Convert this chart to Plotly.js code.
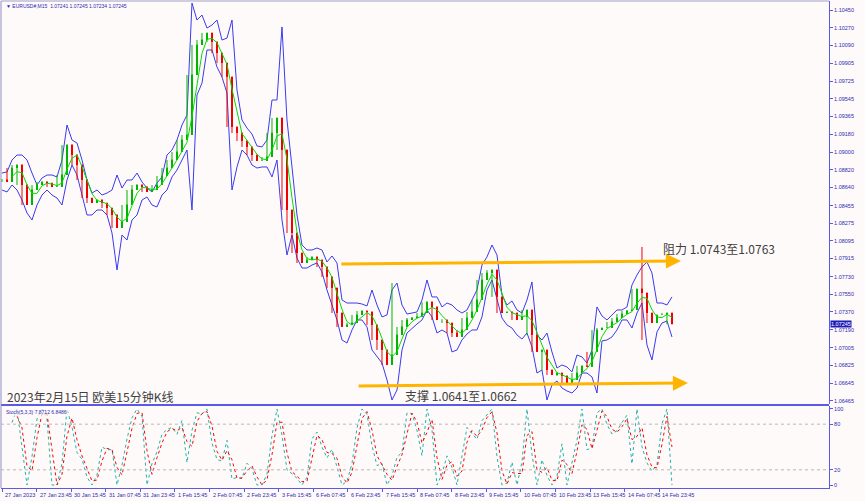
<!DOCTYPE html>
<html>
<head>
<meta charset="utf-8">
<script src="https://cdn.plot.ly/plotly-3.0.1.min.js"></script>
<style>html,body{margin:0;padding:0;background:#fffafa;}#chart{width:865px;height:501px;}</style>
</head>
<body>
<div id="chart"></div>
<script>
// ---- data (EURUSD M15, sampled along the chart) ----
const closePrices = [
 1.08716,1.08696,1.08838,1.08869,1.08665,1.08461,1.08614,1.08665,1.08696,1.08685,
 1.08645,1.08645,1.08767,1.09073,1.08971,1.08869,1.08716,1.08532,1.08481,1.08512,
 1.08481,1.08430,1.08359,1.08226,1.08288,1.08461,1.08614,1.08665,1.08645,1.08594,
 1.08614,1.08665,1.08757,1.08838,1.08920,1.09002,1.09124,1.09175,1.09787,1.10093,
 1.10144,1.10215,1.10124,1.10011,1.09909,1.09767,1.09257,1.09195,1.09114,1.09053,
 1.08971,1.08910,1.08910,1.08951,1.09195,1.09348,1.09022,1.08410,1.08175,1.07971,
 1.07869,1.07900,1.07931,1.07900,1.07829,1.07727,1.07614,1.07359,1.07217,1.07237,
 1.07257,1.07339,1.07380,1.07370,1.07237,1.07084,1.06982,1.06829,1.06931,1.07135,
 1.07217,1.07288,1.07308,1.07319,1.07359,1.07472,1.07421,1.07288,1.07288,1.07257,
 1.07155,1.07115,1.07186,1.07308,1.07370,1.07492,1.07696,1.07767,1.07798,1.07523,
 1.07359,1.07370,1.07359,1.07288,1.07319,1.07390,1.07135,1.06962,1.06982,1.06778,
 1.06727,1.06747,1.06717,1.06645,1.06676,1.06747,1.06819,1.06809,1.06962,1.07186,
 1.07206,1.07206,1.07268,1.07308,1.07349,1.07380,1.07390,1.07604,1.07563,1.07359,
 1.07257,1.07339,1.07339,1.07359,1.07245];

const upperBand = [
 1.08787,1.08798,1.08920,1.08971,1.08971,1.08920,1.08787,1.08665,1.08736,1.08767,
 1.08767,1.08747,1.08920,1.09277,1.09124,1.09093,1.08920,1.08716,1.08583,1.08614,
 1.08563,1.08583,1.08614,1.08767,1.08634,1.08716,1.08716,1.08787,1.08696,1.08634,
 1.08594,1.08685,1.08747,1.08971,1.09022,1.09124,1.09277,1.09379,1.10521,1.10348,
 1.10399,1.10266,1.10297,1.10348,1.10144,1.10164,1.10348,1.09634,1.09328,1.09246,
 1.09185,1.09063,1.09053,1.09124,1.09532,1.09532,1.10277,1.09328,1.08849,1.08359,
 1.08053,1.08002,1.08002,1.08022,1.08002,1.07880,1.07941,1.07869,1.07492,1.07461,
 1.07461,1.07461,1.07451,1.07431,1.07594,1.07441,1.07319,1.07339,1.07594,1.07665,
 1.07441,1.07349,1.07359,1.07370,1.07492,1.07696,1.07523,1.07523,1.07421,1.07461,
 1.07441,1.07390,1.07359,1.07390,1.07492,1.07594,1.07849,1.07931,1.08053,1.07951,
 1.07543,1.07441,1.07482,1.07390,1.07359,1.07492,1.07676,1.07135,1.07084,1.07155,
 1.06962,1.06798,1.06829,1.06809,1.06758,1.06931,1.06911,1.06849,1.06982,1.07421,
 1.07329,1.07288,1.07339,1.07390,1.07390,1.07421,1.07645,1.07747,1.07829,1.07880,
 1.07767,1.07461,1.07461,1.07441,1.07523];

const lowerBand = [
 1.08614,1.08594,1.08665,1.08614,1.08512,1.08379,1.08308,1.08461,1.08563,1.08614,
 1.08563,1.08532,1.08461,1.08716,1.08869,1.08767,1.08563,1.08359,1.08359,1.08410,
 1.08410,1.08359,1.08175,1.07798,1.08155,1.08104,1.08308,1.08359,1.08512,1.08543,
 1.08461,1.08441,1.08563,1.08614,1.08747,1.08818,1.08920,1.09022,1.08410,1.09583,
 1.09705,1.10042,1.10042,1.09869,1.09767,1.09603,1.08614,1.08849,1.09022,1.08971,
 1.08869,1.08838,1.08849,1.08849,1.08747,1.08920,1.08308,1.07951,1.08155,1.07920,
 1.07818,1.07818,1.07849,1.07869,1.07778,1.07594,1.07441,1.07288,1.07084,1.07053,
 1.07186,1.07288,1.07288,1.07217,1.06982,1.06911,1.06849,1.06676,1.06472,1.06574,
 1.06982,1.07155,1.07206,1.07247,1.07288,1.07390,1.07319,1.07155,1.07186,1.07155,
 1.06962,1.06982,1.07084,1.07145,1.07186,1.07186,1.07319,1.07594,1.07696,1.07492,
 1.07308,1.07237,1.07206,1.07135,1.07094,1.07155,1.07013,1.06747,1.06778,1.06472,
 1.06625,1.06666,1.06594,1.06564,1.06543,1.06594,1.06747,1.06747,1.06707,1.06543,
 1.07074,1.07084,1.07115,1.07186,1.07288,1.07288,1.07206,1.07359,1.07461,1.07033,
 1.06880,1.07166,1.07257,1.07278,1.07115];

// long wicks (sample index, high, low)
const wickIndex = [78, 128];
const wickHigh = [1.07665, 1.08033];
const wickLow = [1.06880, 1.07084];

const timeLabels = ["27 Jan 2023","27 Jan 23:45","30 Jan 15:45","31 Jan 07:45","31 Jan 23:45",
 "1 Feb 15:45","2 Feb 07:45","2 Feb 23:45","3 Feb 15:45","6 Feb 07:45","6 Feb 23:45",
 "7 Feb 15:45","8 Feb 07:45","8 Feb 23:45","9 Feb 15:45","10 Feb 07:45","10 Feb 23:45",
 "13 Feb 15:45","14 Feb 07:45","14 Feb 23:45"];
const priceLabels = ["1.10450","1.10270","1.10090","1.09905","1.09725","1.09545","1.09365",
 "1.09180","1.09000","1.08820","1.08640","1.08455","1.08275","1.08095","1.07915","1.07730",
 "1.07550","1.07370","1.07190","1.07005","1.06825","1.06645","1.06465"];
const stochLabels = ["100","80","20","0"];
const stochLevels = [80, 20];

const resistBars = [625, 1256], resistPrices = [1.07859, 1.07890];
const supportBars = [657, 1269], supportPrices = [1.06615, 1.06645];
const lastPrice = "1.07245";

// ---- derived ----
const BARS_PER_SAMPLE = 9.25, BARS_PER_LABEL = 64;
const N = closePrices.length;
const xs = closePrices.map((_, i) => i * BARS_PER_SAMPLE);
const openPrices = closePrices.map((c, i) => i === 0 ? c : closePrices[i - 1]);
const nextPrices = closePrices.map((c, i) => i === N - 1 ? c : closePrices[i + 1]);
const highPrices = closePrices.map((c, i) => Math.max(c, openPrices[i], nextPrices[i]));
const lowPrices = closePrices.map((c, i) => Math.min(c, openPrices[i], nextPrices[i]));
wickIndex.forEach((k, j) => { highPrices[k] = wickHigh[j]; lowPrices[k] = wickLow[j]; });

function sma(a, n) {
  return a.map((_, i) => {
    if (i < n - 1) return null;
    let s = 0; for (let j = i - n + 1; j <= i; j++) { if (a[j] == null) return null; s += a[j]; }
    return s / n;
  });
}
const ma = sma(closePrices, 3);

function stoch(h, l, c, kp, slow, dp) {
  const num = [], den = [];
  for (let i = 0; i < c.length; i++) {
    if (i < kp - 1) { num.push(null); den.push(null); continue; }
    let hh = -Infinity, ll = Infinity;
    for (let j = i - kp + 1; j <= i; j++) { hh = Math.max(hh, h[j]); ll = Math.min(ll, l[j]); }
    num.push(c[i] - ll); den.push(hh - ll);
  }
  const K = c.map((_, i) => {
    if (i < kp - 1 + slow - 1) return null;
    let n = 0, d = 0; for (let j = i - slow + 1; j <= i; j++) { n += num[j]; d += den[j]; }
    return d === 0 ? 50 : n / d * 100;
  });
  return { K, D: sma(K, dp) };
}
const st = stoch(highPrices, lowPrices, closePrices, 3, 1, 2);

// candle strokes (vertical segments), split by direction
function segs(pick, lo, hi) {
  const x = [], y = [];
  for (let i = 0; i < N; i++) {
    if (!pick(i)) continue;
    x.push(xs[i], xs[i], null); y.push(lo[i], hi[i], null);
  }
  return { x, y };
}
const isUp = i => closePrices[i] >= openPrices[i];
const bodyLo = closePrices.map((c, i) => Math.min(c, openPrices[i]));
const bodyHi = closePrices.map((c, i) => Math.max(c, openPrices[i]) + 0.00004);
const upW = segs(isUp, lowPrices, highPrices), dnW = segs(i => !isUp(i), lowPrices, highPrices);
const upB = segs(isUp, bodyLo, bodyHi), dnB = segs(i => !isUp(i), bodyLo, bodyHi);

// ---- traces ----
const blue = '#3a3af0', upCol = '#00b400', dnCol = '#f00000';
const traces = [
  { type: 'scatter', mode: 'lines', x: xs, y: upperBand, line: { color: blue, width: 1 }, hoverinfo: 'skip' },
  { type: 'scatter', mode: 'lines', x: xs, y: lowerBand, line: { color: blue, width: 1 }, hoverinfo: 'skip' },
  { type: 'scatter', mode: 'lines', x: upW.x, y: upW.y, line: { color: upCol, width: 1 }, connectgaps: false, hoverinfo: 'skip' },
  { type: 'scatter', mode: 'lines', x: dnW.x, y: dnW.y, line: { color: dnCol, width: 1 }, connectgaps: false, hoverinfo: 'skip' },
  { type: 'scatter', mode: 'lines', x: upB.x, y: upB.y, line: { color: upCol, width: 2 }, connectgaps: false, hoverinfo: 'skip' },
  { type: 'scatter', mode: 'lines', x: dnB.x, y: dnB.y, line: { color: dnCol, width: 2 }, connectgaps: false, hoverinfo: 'skip' },
  { type: 'scatter', mode: 'lines', x: xs, y: ma, line: { color: '#00dd00', width: 1 }, hoverinfo: 'skip' },
  { type: 'scatter', mode: 'lines', x: xs, y: st.K, yaxis: 'y2', line: { color: '#20b2aa', width: 1, dash: 'dot' }, hoverinfo: 'skip' },
  { type: 'scatter', mode: 'lines', x: xs, y: st.D, yaxis: 'y2', line: { color: '#ff0000', width: 1, dash: 'dot' }, hoverinfo: 'skip' }
];

// ---- layout ----
const axisBlue = '#5a5ae6', tickFont = { family: 'Liberation Sans, DejaVu Sans', size: 5.5, color: '#2b2bb0' };
const smallFont = { family: 'Liberation Sans, DejaVu Sans', size: 5, color: '#2b2bb0' };
const MAIN_BOTTOM = 0.1725, STOCH_TOP = 0.1684;
const annotations = [];
timeLabels.forEach((t, k) => annotations.push({ xref: 'x', yref: 'paper', x: k * BARS_PER_LABEL, y: 0, xanchor: 'left', yanchor: 'top',
  yshift: -2, xshift: 1, text: t, showarrow: false, font: tickFont }));
annotations.push({ xref: 'paper', yref: 'paper', x: 0.004, y: 0.999, xanchor: 'left', yanchor: 'top', showarrow: false,
  text: '▼ EURUSD#,M15  1.07241 1.07245 1.07234 1.07245', font: smallFont });
annotations.push({ xref: 'paper', yref: 'paper', x: 0.004, y: STOCH_TOP - 0.002, xanchor: 'left', yanchor: 'top', showarrow: false,
  text: 'Stoch(5,3,3) 7.8712 6.8486', font: smallFont, bgcolor: 'rgba(255,250,250,0.7)' });
annotations.push({ xref: 'paper', yref: 'y', x: 1, y: Number(lastPrice), xanchor: 'left', yanchor: 'middle', xshift: 1, showarrow: false,
  text: lastPrice, bgcolor: '#1c1cb8', borderpad: 0, font: { family: 'Liberation Sans, DejaVu Sans', size: 5.5, color: '#ffffff' } });
annotations.push({ xref: 'x', yref: 'y', x: resistBars[1], y: resistPrices[1], axref: 'x', ayref: 'y', ax: resistBars[0], ay: resistPrices[0],
  text: '', showarrow: true, arrowhead: 2, arrowsize: 1, arrowwidth: 3, arrowcolor: '#ffb400', standoff: 0 });
annotations.push({ xref: 'x', yref: 'y', x: supportBars[1], y: supportPrices[1], axref: 'x', ayref: 'y', ax: supportBars[0], ay: supportPrices[0],
  text: '', showarrow: true, arrowhead: 2, arrowsize: 1, arrowwidth: 3, arrowcolor: '#ffb400', standoff: 0 });
const cjk = { family: 'Noto Sans CJK SC', size: 12, color: '#404040' };
annotations.push({ xref: 'x', yref: 'y', x: 1219, y: 1.08022, xanchor: 'left', yanchor: 'middle', showarrow: false, text: '阻力 1.0743至1.0763', font: cjk });
annotations.push({ xref: 'x', yref: 'y', x: 742, y: 1.06516, xanchor: 'left', yanchor: 'middle', showarrow: false, text: '支撑 1.0641至1.0662', font: cjk });
annotations.push({ xref: 'x', yref: 'y', x: 5.5, y: 1.06503, xanchor: 'left', yanchor: 'middle', showarrow: false, text: '2023年2月15日 欧美15分钟K线', font: cjk });

const shapes = [
  { type: 'line', xref: 'paper', yref: 'paper', x0: 0, x1: 1, y0: (MAIN_BOTTOM + STOCH_TOP) / 2, y1: (MAIN_BOTTOM + STOCH_TOP) / 2, line: { color: axisBlue, width: 2 } },
  { type: 'line', xref: 'paper', yref: 'paper', x0: 0, x1: 0, y0: 0, y1: 1, line: { color: '#8c8cc8', width: 1 } },
  { type: 'line', xref: 'paper', yref: 'paper', x0: 0, x1: 1, y0: 1, y1: 1, line: { color: '#a0a0c8', width: 1 } }
];
stochLevels.forEach(v => shapes.push({ type: 'line', xref: 'paper', yref: 'y2', x0: 0, x1: 1, y0: v, y1: v, line: { color: '#b8b8b8', width: 1, dash: 'dot' } }));

const layout = {
  width: 865, height: 501, margin: { l: 1, r: 36, t: 1, b: 13 },
  paper_bgcolor: '#fffafa', plot_bgcolor: '#fffafa', showlegend: false,
  xaxis: { range: [-1.85, 1530], anchor: 'y2', tickvals: timeLabels.map((_, k) => k * BARS_PER_LABEL), showticklabels: false,
    ticks: 'outside', ticklen: 3, tickcolor: axisBlue, showline: true, linecolor: axisBlue, linewidth: 1,
    showgrid: false, zeroline: false, fixedrange: true },
  yaxis: { domain: [MAIN_BOTTOM, 1], range: [1.06431, 1.10542], side: 'right', anchor: 'x',
    tickvals: priceLabels.map(Number), ticktext: priceLabels, ticks: 'outside', ticklen: 3, tickcolor: axisBlue,
    showline: true, linecolor: axisBlue, linewidth: 1, showgrid: false, zeroline: false, tickfont: tickFont, fixedrange: true },
  yaxis2: { domain: [0, STOCH_TOP], range: [-3.9, 103.9], side: 'right', anchor: 'x',
    tickvals: stochLabels.map(Number), ticktext: stochLabels, ticks: 'outside', ticklen: 3, tickcolor: axisBlue,
    showline: true, linecolor: axisBlue, linewidth: 1, showgrid: false, zeroline: false, tickfont: tickFont, fixedrange: true },
  annotations, shapes
};
Plotly.newPlot('chart', traces, layout, { staticPlot: true, displayModeBar: false });
</script>
</body>
</html>
